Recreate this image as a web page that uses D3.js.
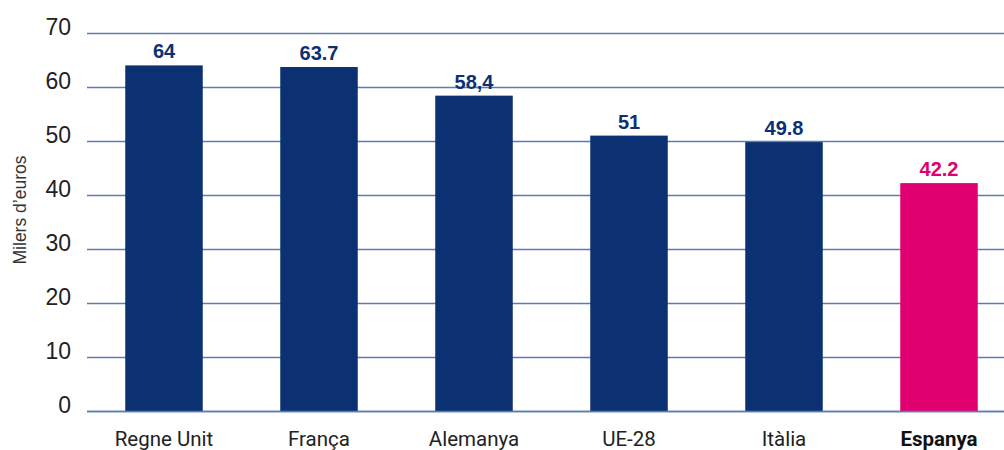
<!DOCTYPE html>
<html>
<head>
<meta charset="utf-8">
<script src="https://cdn.jsdelivr.net/npm/d3@7"></script>
<style>
  html, body { margin: 0; padding: 0; background: #fff; }
  svg { display: block; }
</style>
</head>
<body>
<svg id="chart" width="1004" height="450"></svg>
<script>
// Productivity per worker, thousands of euros
const categories = ["Regne Unit", "França", "Alemanya", "UE-28", "Itàlia", "Espanya"];
const values = [64, 63.7, 58.4, 51, 49.8, 42.2];
const valueLabels = ["64", "63.7", "58,4", "51", "49.8", "42.2"];
const highlight = ["Espanya"];
const yTicks = [0, 10, 20, 30, 40, 50, 60, 70];

const svg = d3.select("#chart");
const navy = "#0b3173";
const pink = "#e0006f";

const x = d3.scaleBand()
  .domain(categories)
  .range([86.5, 1016.5])
  .paddingInner(0.5)
  .paddingOuter(0.25);

const y = d3.scaleLinear()
  .domain([0, 70])
  .range([411, 33]);

// Horizontal gridlines and tick labels
const yAxis = d3.axisLeft(y)
  .tickValues(yTicks)
  .tickSize(-(1004 - 87))
  .tickPadding(16);

const gy = svg.append("g")
  .attr("transform", "translate(87,0)")
  .call(yAxis);
gy.select(".domain").remove();
gy.selectAll(".tick line")
  .attr("stroke", "#5d7db0")
  .attr("stroke-width", 1.5);
gy.selectAll(".tick text")
  .attr("x", -16)
  .attr("dy", "0.05em")
  .attr("font-family", "'Liberation Sans', Arial, sans-serif")
  .attr("font-size", 23)
  .attr("fill", "#222");

// Axis title
svg.append("text")
  .attr("transform", "translate(26,210) rotate(-90)")
  .attr("text-anchor", "middle")
  .attr("font-family", "'Liberation Sans', Arial, sans-serif")
  .attr("font-size", 17.5)
  .attr("fill", "#333")
  .text("Milers d’euros");

// Bars
const isHi = d => highlight.includes(d);
svg.append("g")
  .selectAll("rect")
  .data(categories)
  .join("rect")
  .attr("x", d => x(d))
  .attr("width", x.bandwidth())
  .attr("y", (d, i) => y(values[i]))
  .attr("height", (d, i) => y(0) - y(values[i]))
  .attr("fill", d => isHi(d) ? pink : navy);

// Baseline
svg.append("line")
  .attr("x1", 87).attr("x2", 1004)
  .attr("y1", y(0) + 0.5).attr("y2", y(0) + 0.5)
  .attr("stroke", "#5d7db0")
  .attr("stroke-width", 1.5);

// Value labels
svg.append("g")
  .selectAll("text")
  .data(categories)
  .join("text")
  .attr("x", d => x(d) + x.bandwidth() / 2)
  .attr("y", (d, i) => y(values[i]) - 7)
  .attr("text-anchor", "middle")
  .attr("font-family", "'Liberation Sans', Arial, sans-serif")
  .attr("font-weight", "bold")
  .attr("font-size", 20)
  .attr("fill", d => isHi(d) ? pink : navy)
  .text((d, i) => valueLabels[i]);

// Category labels
svg.append("g")
  .selectAll("text")
  .data(categories)
  .join("text")
  .attr("x", d => x(d) + x.bandwidth() / 2)
  .attr("y", 446)
  .attr("text-anchor", "middle")
  .attr("font-family", "Roboto, 'Liberation Sans', sans-serif")
  .attr("font-size", 20.5)
  .attr("font-weight", d => isHi(d) ? "bold" : "normal")
  .attr("fill", d => isHi(d) ? "#111" : "#222")
  .text(d => d);
</script>
</body>
</html>
